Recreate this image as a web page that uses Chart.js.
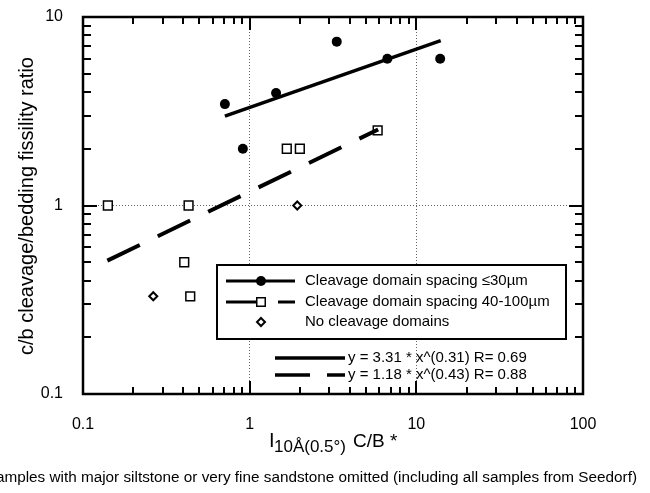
<!DOCTYPE html>
<html>
<head>
<meta charset="utf-8">
<script src="https://cdn.jsdelivr.net/npm/chart.js@4.4.0/dist/chart.umd.min.js"></script>
<style>
  html, body { margin: 0; padding: 0; background: #fff; }
  #wrap { width: 650px; height: 493px; }
</style>
</head>
<body>
<div id="wrap"><canvas id="fissChart" width="650" height="493"></canvas></div>
<script>
// cleavage domain spacing <= 30 um
var fineX = [0.71, 1.44, 0.91, 3.33, 6.7, 13.9];
var fineY = [3.45, 3.95, 2.0, 7.4, 6.0, 6.0];
// cleavage domain spacing 40-100 um
var coarseX = [0.141, 0.43, 1.67, 2.0, 5.86, 0.405, 0.44];
var coarseY = [1.0, 1.0, 2.0, 2.0, 2.5, 0.5, 0.33];
// no cleavage domains
var noneX = [1.93, 0.264];
var noneY = [1.0, 0.33];
// end points of the power-law fits
var fitFineX = [0.71, 14];
var fitFineY = [2.98, 7.5];
var fitCoarseX = [0.14, 5.9];
var fitCoarseY = [0.51, 2.53];

var xDecades = [0.1, 1, 10, 100];
var xTickLabels = ['0.1', '1', '10', '100'];
var yDecades = [0.1, 1, 10];
var yTickLabels = ['0.1', '1', '10'];

var legendLabels = [
  'Cleavage domain spacing \u226430\u00b5m',
  'Cleavage domain spacing 40-100\u00b5m',
  'No cleavage domains'
];
var fitLabels = [
  'y = 3.31 * x^(0.31) R= 0.69',
  'y = 1.18 * x^(0.43) R= 0.88'
];
var yTitle = 'c/b cleavage/bedding fissility ratio';
var caption = 'Samples with major siltstone or very fine sandstone omitted (including all samples from Seedorf)';

var FONT = '"Liberation Sans", Arial, Helvetica, sans-serif';

function pairs(xs, ys) {
  return xs.map(function(x, i) { return { x: x, y: ys[i] }; });
}

function decadeLabel(value, decades, labels) {
  for (var i = 0; i < decades.length; i++) {
    if (Math.abs(value - decades[i]) < decades[i] * 1e-6) return labels[i];
  }
  return '';
}

function near(v, t) { return Math.abs(v - t) < t * 1e-6; }

function drawCircle(ctx, x, y, r) {
  ctx.beginPath();
  ctx.arc(x, y, r, 0, Math.PI * 2);
  ctx.fillStyle = '#000';
  ctx.fill();
}
function drawSquare(ctx, x, y, s) {
  ctx.fillStyle = '#fff';
  ctx.fillRect(x - s / 2, y - s / 2, s, s);
  ctx.lineWidth = 1.5;
  ctx.strokeStyle = '#000';
  ctx.strokeRect(x - s / 2, y - s / 2, s, s);
}
function drawDiamond(ctx, x, y, r) {
  ctx.beginPath();
  ctx.moveTo(x, y - r);
  ctx.lineTo(x + r, y);
  ctx.lineTo(x, y + r);
  ctx.lineTo(x - r, y);
  ctx.closePath();
  ctx.fillStyle = '#fff';
  ctx.fill();
  ctx.lineWidth = 2;
  ctx.strokeStyle = '#000';
  ctx.stroke();
}
function hline(ctx, x1, x2, y, w) {
  ctx.beginPath();
  ctx.moveTo(x1, y);
  ctx.lineTo(x2, y);
  ctx.lineWidth = w;
  ctx.strokeStyle = '#000';
  ctx.stroke();
}

// frame, inward ticks, legend, fit equations and titles
var decorations = {
  id: 'decorations',
  afterDatasetsDraw: function(chart) {
    var ctx = chart.ctx;
    var a = chart.chartArea;
    var xs = chart.scales.x, ys = chart.scales.y;
    ctx.save();

    // inward tick marks
    ctx.strokeStyle = '#000';
    ctx.lineWidth = 2;
    [0.1, 1, 10].forEach(function(d) {
      for (var m = 1; m <= 9; m++) {
        var v = m * d;
        if (m === 1 && d === 0.1) continue;
        var px = Math.round(xs.getPixelForValue(v));
        var len = m === 1 ? 13 : 7;
        ctx.beginPath();
        ctx.moveTo(px, a.bottom); ctx.lineTo(px, a.bottom - len);
        ctx.moveTo(px, a.top); ctx.lineTo(px, a.top + len);
        ctx.stroke();
      }
    });
    [0.1, 1].forEach(function(d) {
      for (var m = 1; m <= 9; m++) {
        var v = m * d;
        if (m === 1 && d === 0.1) continue;
        var py = Math.round(ys.getPixelForValue(v));
        var len = m === 1 ? 14 : 8;
        ctx.beginPath();
        ctx.moveTo(a.left, py); ctx.lineTo(a.left + len, py);
        ctx.moveTo(a.right, py); ctx.lineTo(a.right - len, py);
        ctx.stroke();
      }
    });

    // frame
    ctx.lineWidth = 2.5;
    ctx.strokeRect(a.left, a.top, a.right - a.left, a.bottom - a.top);

    // legend box
    var bx = 217, by = 265, bw = 349, bh = 74;
    ctx.fillStyle = '#fff';
    ctx.fillRect(bx, by, bw, bh);
    ctx.lineWidth = 2;
    ctx.strokeStyle = '#000';
    ctx.strokeRect(bx, by, bw, bh);

    var rows = [281, 302, 322];
    hline(ctx, 226, 295, rows[0], 3);
    drawCircle(ctx, 261, rows[0], 5);
    hline(ctx, 226, 257, rows[1], 3);
    hline(ctx, 278, 295, rows[1], 3);
    drawSquare(ctx, 261, rows[1], 8.5);
    drawDiamond(ctx, 261, rows[2], 4);

    ctx.fillStyle = '#000';
    ctx.font = '15px ' + FONT;
    ctx.textAlign = 'left';
    ctx.textBaseline = 'middle';
    legendLabels.forEach(function(t, i) { ctx.fillText(t, 305, rows[i]); });

    // fit equations
    hline(ctx, 275, 345, 358, 3.5);
    hline(ctx, 275, 310, 375, 3.5);
    hline(ctx, 327, 345, 375, 3.5);
    ctx.fillText(fitLabels[0], 348, 358);
    ctx.fillText(fitLabels[1], 348, 375);

    // y axis title
    ctx.save();
    ctx.translate(27, 206);
    ctx.rotate(-Math.PI / 2);
    ctx.textAlign = 'center';
    ctx.textBaseline = 'middle';
    ctx.font = '20px ' + FONT;
    ctx.fillText(yTitle, 0, 0);
    ctx.restore();

    // x axis title: I with subscript, then C/B *
    ctx.textAlign = 'left';
    ctx.textBaseline = 'alphabetic';
    ctx.font = '20px ' + FONT;
    ctx.fillText('I', 269, 447);
    ctx.font = '17px ' + FONT;
    ctx.fillText('10\u00c5(0.5\u00b0)', 274, 452);
    ctx.font = '19px ' + FONT;
    ctx.fillText('C/B *', 353, 447);

    // caption
    ctx.font = '15.3px ' + FONT;
    ctx.textAlign = 'right';
    ctx.fillText(caption, 637, 482);

    ctx.restore();
  }
};

var ctx = document.getElementById('fissChart').getContext('2d');
new Chart(ctx, {
  type: 'scatter',
  data: {
    datasets: [
      {
        type: 'line',
        data: pairs(fitFineX, fitFineY),
        borderColor: '#000',
        borderWidth: 3.5,
        pointRadius: 0,
        fill: false
      },
      {
        type: 'line',
        data: pairs(fitCoarseX, fitCoarseY),
        borderColor: '#000',
        borderWidth: 4,
        borderDash: [36, 20],
        pointRadius: 0,
        fill: false
      },
      {
        data: pairs(fineX, fineY),
        pointStyle: 'circle',
        pointRadius: 5,
        backgroundColor: '#000',
        borderColor: '#000',
        borderWidth: 0
      },
      {
        data: pairs(coarseX, coarseY),
        pointStyle: 'rect',
        pointRadius: 6.2,
        backgroundColor: '#fff',
        borderColor: '#000',
        borderWidth: 1.5
      },
      {
        data: pairs(noneX, noneY),
        pointStyle: 'rectRot',
        pointRadius: 4,
        backgroundColor: '#fff',
        borderColor: '#000',
        borderWidth: 2
      }
    ]
  },
  options: {
    responsive: false,
    animation: false,
    layout: { padding: { left: 0, right: 67, top: 17, bottom: 0 } },
    plugins: {
      legend: { display: false },
      tooltip: { enabled: false }
    },
    scales: {
      x: {
        type: 'logarithmic',
        min: 0.1,
        max: 100,
        afterFit: function(s) { s.height = 99; },
        ticks: {
          autoSkip: false,
          maxRotation: 0,
          padding: 0,
          color: '#000',
          font: { family: FONT, size: 16 },
          callback: function(v) { return decadeLabel(v, xDecades, xTickLabels); }
        },
        grid: {
          drawTicks: true,
          tickLength: 21,
          tickColor: 'rgba(0,0,0,0)',
          lineWidth: 1,
          color: function(c) {
            var v = c.tick ? c.tick.value : 0;
            return (near(v, 1) || near(v, 10)) ? '#666' : 'rgba(0,0,0,0)';
          }
        },
        border: { display: false, dash: [1, 2] }
      },
      y: {
        type: 'logarithmic',
        min: 0.1,
        max: 10,
        afterFit: function(s) { s.width = 83; },
        ticks: {
          autoSkip: false,
          padding: 0,
          color: '#000',
          font: { family: FONT, size: 16 },
          callback: function(v) { return decadeLabel(v, yDecades, yTickLabels); }
        },
        grid: {
          drawTicks: true,
          tickLength: 20,
          tickColor: 'rgba(0,0,0,0)',
          lineWidth: 1,
          color: function(c) {
            var v = c.tick ? c.tick.value : 0;
            return near(v, 1) ? '#666' : 'rgba(0,0,0,0)';
          }
        },
        border: { display: false, dash: [1, 2] }
      }
    }
  },
  plugins: [decorations]
});
</script>
</body>
</html>
